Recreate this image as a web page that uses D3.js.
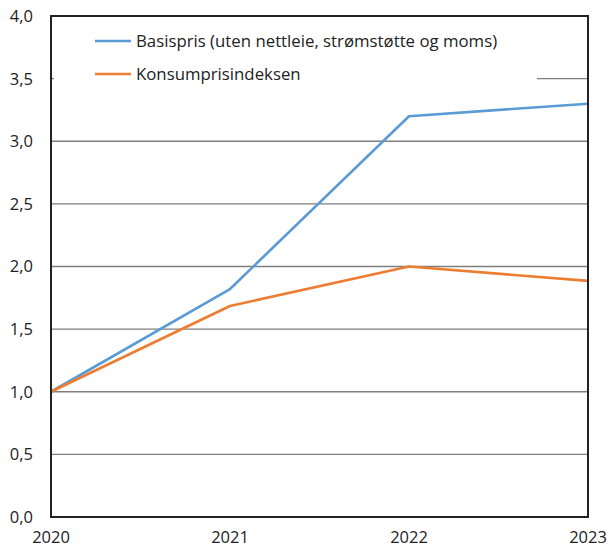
<!DOCTYPE html>
<html>
<head>
<meta charset="utf-8">
<script src="https://cdn.jsdelivr.net/npm/d3@7"></script>
<style>
  body { margin: 0; background: #fff; }
  text { font-family: "Open Sans", sans-serif; fill: #222; }
</style>
</head>
<body>
<div id="chart"></div>
<script>
var years = [2020, 2021, 2022, 2023];
var basispris = [1.0, 1.82, 3.2, 3.3];
var kpi = [1.0, 1.685, 2.0, 1.885];
var yTicks = [0, 0.5, 1, 1.5, 2, 2.5, 3, 3.5, 4];
var seriesNames = ["Basispris (uten nettleie, strømstøtte og moms)", "Konsumprisindeksen"];
var seriesColors = ["#5b9bd5", "#ed7d31"];

var width = 608, height = 548;
// plot edges (note: "top" is reserved on window)
var plotLeft = 51, plotRight = 588, plotTop = 16, plotBottom = 517;

var svg = d3.select("#chart")
  .append("svg")
    .attr("width", width)
    .attr("height", height);

var x = d3.scaleLinear().domain([2020, 2023]).range([plotLeft, plotRight]);
var y = d3.scaleLinear().domain([0, 4]).range([plotBottom, plotTop]);

// gridlines
svg.append("g")
  .selectAll("line")
  .data(yTicks.filter(function(d){ return d > 0 && d < 4; }))
  .enter()
  .append("line")
    .attr("x1", plotLeft).attr("x2", plotRight)
    .attr("y1", function(d){ return y(d); })
    .attr("y2", function(d){ return y(d); })
    .attr("stroke", "#7f7f7f")
    .attr("stroke-width", 1.3);

// y labels
svg.append("g")
  .selectAll("text")
  .data(yTicks)
  .enter()
  .append("text")
    .attr("x", 33)
    .attr("y", function(d){ return y(d); })
    .attr("dy", "0.36em")
    .attr("text-anchor", "end")
    .style("font-size", "16.5px")
    .text(function(d){ return d3.format(".1f")(d).replace(".", ","); });

// x labels
svg.append("g")
  .selectAll("text")
  .data(years)
  .enter()
  .append("text")
    .attr("x", function(d){ return x(d); })
    .attr("y", 543)
    .attr("text-anchor", "middle")
    .style("font-size", "16.5px")
    .text(function(d){ return d; });

// legend box covers the grid
svg.append("rect")
  .attr("x", plotLeft + 3).attr("y", 24)
  .attr("width", 537 - plotLeft - 3).attr("height", 64)
  .attr("fill", "#fff");

var line = d3.line()
  .x(function(d, i){ return x(years[i]); })
  .y(function(d){ return y(d); });

[basispris, kpi].forEach(function(s, i) {
  svg.append("path")
    .datum(s)
    .attr("d", line)
    .attr("fill", "none")
    .attr("stroke", seriesColors[i])
    .attr("stroke-width", 2.6)
    .attr("stroke-linejoin", "round");
});

// frame
svg.append("rect")
  .attr("x", plotLeft).attr("y", plotTop)
  .attr("width", plotRight - plotLeft).attr("height", plotBottom - plotTop)
  .attr("fill", "none")
  .attr("stroke", "#222")
  .attr("stroke-width", 2);

// legend
var legend = svg.append("g")
  .selectAll("g")
  .data(seriesNames)
  .enter()
  .append("g")
    .attr("transform", function(d, i){ return "translate(95," + (41 + i * 33) + ")"; });

legend.append("line")
  .attr("x1", 0).attr("x2", 36)
  .attr("stroke", function(d, i){ return seriesColors[i]; })
  .attr("stroke-width", 2.6);

legend.append("text")
  .attr("x", 41)
  .attr("dy", "0.36em")
  .style("font-size", "16.8px")
  .text(function(d){ return d; });
</script>
</body>
</html>
